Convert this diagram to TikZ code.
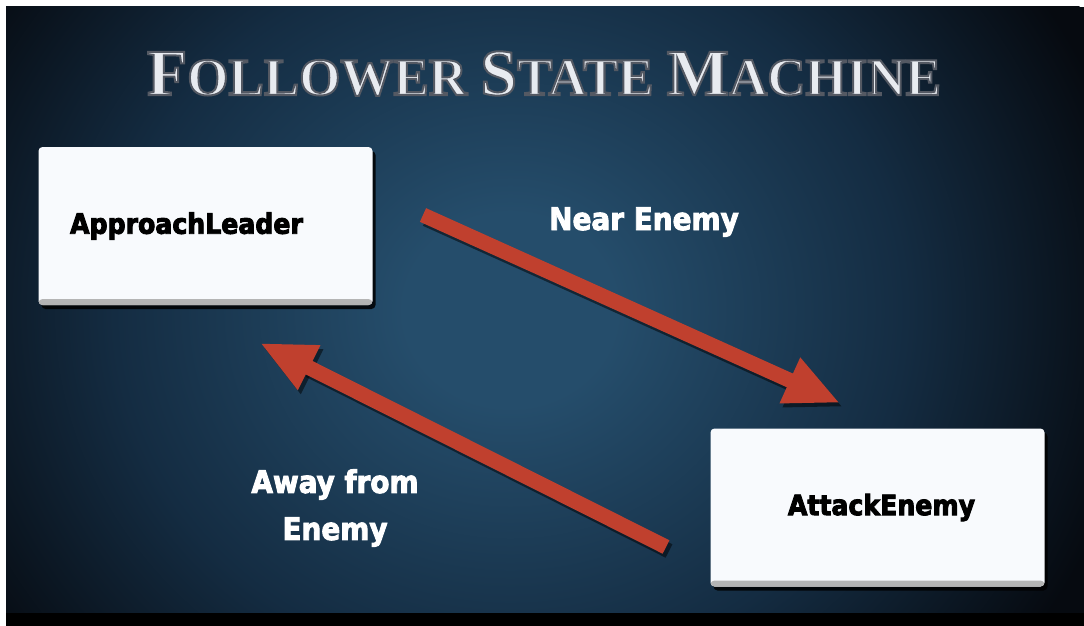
\documentclass[tikz,border=0pt]{standalone}
\usepackage{fontspec}
\setmainfont{Liberation Serif}
\newfontfamily\labelfont{DejaVu Sans Condensed Bold}
\usetikzlibrary{arrows.meta,shadows}

\definecolor{bgdark}{RGB}{6,10,16}
\definecolor{bgmid}{RGB}{20,44,66}
\definecolor{bglight}{RGB}{37,77,107}
\definecolor{arrowred}{RGB}{192,64,46}
\definecolor{boxwhite}{RGB}{248,250,253}
\definecolor{silver}{RGB}{232,235,240}

\pgfdeclareradialshading{backdrop}{\pgfpoint{0bp}{0bp}}{color(0bp)=(bglight); color(4bp)=(bglight); color(15bp)=(bgmid); color(24bp)=(bgdark); color(50bp)=(bgdark)}

% text stroked round its outline: width, stroke rgb, text
\newcommand{\stroked}[3]{\special{pdf:literal direct 2 Tr #1 w #2 RG}#3\special{pdf:literal direct 0 Tr 0.4 w}}

\tikzset{
	statebox/.style={fill=boxwhite, rounded corners=4pt, inner sep=0pt,
		minimum width=334pt, minimum height=158pt,
		font=\labelfont\fontsize{28}{30}\selectfont, text=black,
		drop shadow={shadow xshift=3pt, shadow yshift=-4pt, opacity=.85, fill=black},
		path picture={\shade[top color=boxwhite, bottom color=black!30]
			([yshift=6pt]path picture bounding box.south west) rectangle (path picture bounding box.south east);}},
	guardtext/.style={font=\labelfont\fontsize{31}{47}\selectfont, text=white, align=center},
	transition/.style={draw=arrowred, line width=15pt, -{Triangle[length=55pt,width=46pt]}},
	transitionshadow/.style={transition, draw=black, opacity=.5}
}

\begin{document}
\begin{tikzpicture}[x=1pt,y=-1pt]
	%Backdrop
	\useasboundingbox[fill=white] (0,0) rectangle (1084,626);
	\fill [bgdark] (6,7) rectangle (1084,626);
	\begin{scope}
		\clip (6,7) rectangle (1084,613);
		\shade [shading=backdrop] (510,310) ellipse [x radius=660, y radius=600];
	\end{scope}
	\fill [black] (6,613) rectangle (1084,626);

	%Title
	\node [anchor=base, text=silver] (title) at (544,95)
	{\stroked{2}{0.33 0.35 0.39}{\fontsize{66}{70}\selectfont\bfseries F\fontsize{53}{60}\selectfont OLLOWER\ \fontsize{66}{70}\selectfont S\fontsize{53}{60}\selectfont TATE\ \fontsize{66}{70}\selectfont M\fontsize{53}{60}\selectfont ACHINE}};

	%States
	\node [statebox] (approach) at (205.5,226) {\stroked{0.9}{0 0 0}{ApproachLeader}\hspace*{38pt}};
	\node [statebox] (attack) at (877.5,507.5) {\hspace*{8pt}\stroked{0.9}{0 0 0}{AttackEnemy}};

	%Transitions
	\coordinate (nearstart) at (423,215);
	\coordinate (nearend) at (840,403);
	\coordinate (awaystart) at (666,547);
	\coordinate (awayend) at (260,343);
	\draw [transitionshadow] ([shift={(3,4)}]nearstart) -- ([shift={(3,4)}]nearend);
	\draw [transitionshadow] ([shift={(3,4)}]awaystart) -- ([shift={(3,4)}]awayend);
	\draw [transition] (nearstart) -- (nearend);
	\draw [transition] (awaystart) -- (awayend);

	%Guards
	\node [guardtext, anchor=base] (neartext) at (644,230) {\stroked{0.9}{1 1 1}{Near Enemy}};
	\node [guardtext] (awaytext) at (335,508) {\stroked{0.9}{1 1 1}{Away from}\\\stroked{0.9}{1 1 1}{Enemy}};
\end{tikzpicture}
\end{document}
